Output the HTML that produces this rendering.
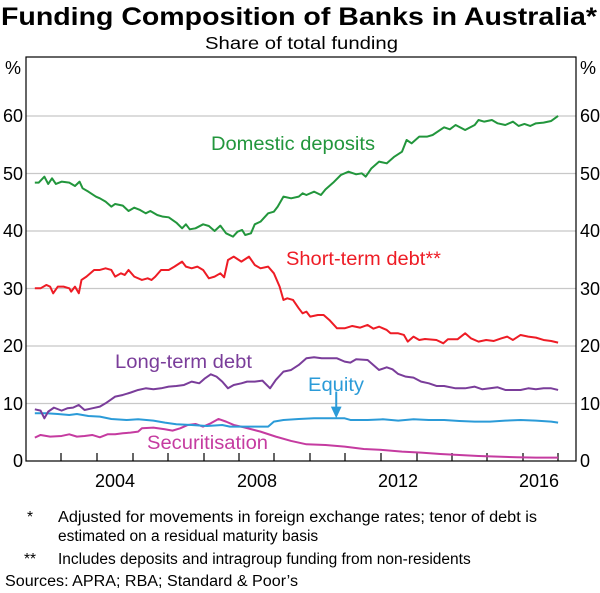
<!DOCTYPE html>
<html><head><meta charset="utf-8"><style>
body{margin:0;background:#fff;}
svg{display:block;font-family:"Liberation Sans",Arial,sans-serif;}
</style></head><body>
<svg width="600" height="593" viewBox="0 0 600 593" xmlns="http://www.w3.org/2000/svg">
<text x="1" y="25" font-size="25" font-weight="bold" textLength="596" lengthAdjust="spacingAndGlyphs">Funding Composition of Banks in Australia*</text>
<text x="205" y="49" font-size="17.5" textLength="193" lengthAdjust="spacingAndGlyphs">Share of total funding</text>
<g stroke="#c8c8c8" stroke-width="1.3">
<line x1="26" x2="576" y1="116" y2="116"/><line x1="26" x2="576" y1="173.5" y2="173.5"/>
<line x1="26" x2="576" y1="231" y2="231"/><line x1="26" x2="576" y1="288.5" y2="288.5"/>
<line x1="26" x2="576" y1="346" y2="346"/><line x1="26" x2="576" y1="403.5" y2="403.5"/>
</g>
<g font-size="18" fill="#000">
<text x="5" y="74">%</text><text x="580" y="74">%</text>
<g text-anchor="end">
<text x="23" y="122">60</text><text x="23" y="180">50</text><text x="23" y="237">40</text>
<text x="23" y="295">30</text><text x="23" y="352">20</text><text x="23" y="410">10</text><text x="23" y="467">0</text>
</g>
<text x="580" y="122">60</text><text x="580" y="180">50</text><text x="580" y="237">40</text>
<text x="580" y="295">30</text><text x="580" y="352">20</text><text x="580" y="410">10</text><text x="580" y="467">0</text>
<g text-anchor="middle">
<text x="115" y="487">2004</text><text x="257" y="487">2008</text><text x="398" y="487">2012</text><text x="539" y="487">2016</text>
</g>
</g>
<g stroke="#000" stroke-width="1.2">
<line x1="61" x2="61" y1="453" y2="461"/><line x1="97" x2="97" y1="453" y2="461"/><line x1="133" x2="133" y1="453" y2="461"/><line x1="168" x2="168" y1="453" y2="461"/><line x1="204" x2="204" y1="453" y2="461"/><line x1="239" x2="239" y1="453" y2="461"/><line x1="274" x2="274" y1="453" y2="461"/><line x1="310" x2="310" y1="453" y2="461"/><line x1="345" x2="345" y1="453" y2="461"/><line x1="381" x2="381" y1="453" y2="461"/><line x1="417" x2="417" y1="453" y2="461"/><line x1="452" x2="452" y1="453" y2="461"/><line x1="487" x2="487" y1="453" y2="461"/><line x1="523" x2="523" y1="453" y2="461"/><line x1="558" x2="558" y1="453" y2="461"/>
</g>
<g transform="translate(0.4,40) scale(0.3825,0.3333)" fill="none" stroke-width="2" stroke-linejoin="round">
<polyline vector-effect="non-scaling-stroke" stroke="#c53ba0" points="90,1193 105,1185 130,1190 160,1188 180,1183 200,1190 220,1188 240,1185 260,1192 280,1183 300,1183 320,1180 340,1178 360,1175 370,1165 400,1163 430,1168 450,1172 470,1165 490,1155 510,1152 530,1160 550,1150 570,1137 590,1145 610,1155 640,1163 680,1175 720,1190 760,1203 800,1213 850,1215 900,1220 950,1227 1000,1230 1050,1235 1100,1238 1150,1242 1200,1245 1250,1248 1300,1250 1350,1252 1400,1253 1458,1253"/>
<polyline vector-effect="non-scaling-stroke" stroke="#2b9bd8" points="90,1120 120,1120 150,1122 180,1125 200,1122 230,1128 260,1130 290,1137 330,1140 360,1138 400,1142 430,1148 460,1153 500,1155 540,1158 580,1155 600,1160 640,1160 680,1160 700,1160 715,1145 740,1140 780,1137 820,1135 860,1135 900,1135 915,1140 960,1140 1000,1138 1040,1142 1080,1138 1120,1140 1160,1140 1200,1143 1240,1145 1280,1145 1320,1142 1360,1140 1400,1142 1440,1145 1458,1148"/>
<line vector-effect="non-scaling-stroke" stroke="#2b9bd8" x1="878" y1="1055" x2="878" y2="1115"/>
<polygon fill="#2b9bd8" stroke="none" points="864,1100 892,1100 878,1135"/>
<polyline vector-effect="non-scaling-stroke" stroke="#7a3d9a" points="90,1108 105,1112 115,1135 125,1115 140,1103 160,1112 175,1105 190,1103 205,1095 220,1110 240,1105 260,1100 275,1090 290,1078 300,1070 320,1065 340,1058 360,1050 380,1045 400,1048 420,1045 440,1040 460,1038 480,1035 500,1025 520,1030 535,1015 550,1003 565,1010 580,1025 595,1045 610,1035 630,1030 645,1025 665,1025 685,1022 705,1045 720,1020 740,995 760,990 780,975 800,955 820,952 840,955 860,955 880,955 900,965 915,968 930,958 960,960 975,975 990,990 1010,982 1025,988 1040,1002 1060,1010 1080,1013 1100,1025 1120,1030 1140,1038 1160,1038 1190,1045 1215,1045 1240,1040 1260,1048 1280,1045 1300,1042 1320,1050 1340,1050 1360,1050 1380,1045 1400,1048 1420,1045 1440,1045 1458,1050"/>
<polyline vector-effect="non-scaling-stroke" stroke="#ee1c25" points="90,745 105,745 120,735 130,740 138,760 150,740 165,740 180,745 185,755 195,740 205,760 212,720 225,710 245,690 260,690 275,685 290,690 300,710 315,700 325,705 335,690 350,710 370,720 385,715 395,720 405,710 420,690 440,690 455,680 475,665 485,680 500,685 515,680 530,690 545,715 560,710 575,700 585,712 595,660 610,650 630,665 650,650 665,675 680,685 700,680 715,700 730,740 740,780 750,775 765,780 780,805 790,820 800,815 810,830 830,825 845,825 860,840 880,865 900,865 920,858 940,863 960,855 975,866 990,860 1010,870 1020,880 1040,880 1055,885 1065,905 1080,890 1095,900 1110,897 1140,900 1158,910 1170,898 1195,898 1215,880 1230,895 1250,905 1270,900 1290,903 1310,895 1325,890 1340,900 1360,885 1380,890 1400,893 1420,900 1440,903 1458,908"/>
<polyline vector-effect="non-scaling-stroke" stroke="#22963c" points="90,428 100,428 115,410 125,432 135,415 145,432 160,425 180,428 195,438 207,425 215,445 230,455 250,470 260,475 275,485 290,500 300,492 320,497 335,513 350,503 365,510 380,520 392,513 410,525 425,530 440,532 460,548 475,565 485,553 495,568 510,565 530,553 545,558 560,573 575,557 590,580 608,590 620,575 632,570 640,585 655,580 665,553 680,545 700,520 715,515 725,500 740,470 760,475 780,470 790,460 800,465 820,455 838,465 850,448 870,428 890,405 910,395 930,403 945,400 955,410 970,385 990,365 1010,370 1030,350 1050,335 1062,300 1075,310 1095,290 1115,290 1130,285 1160,262 1175,268 1190,255 1215,270 1240,255 1250,240 1265,245 1285,240 1300,250 1320,255 1340,245 1355,258 1370,252 1385,258 1400,250 1420,248 1440,243 1458,228"/>
</g>
<rect x="26" y="57" width="550" height="404" fill="none" stroke="#000" stroke-width="1.2"/>
<g font-size="19">
<text x="211" y="150" fill="#22963c" textLength="164" lengthAdjust="spacingAndGlyphs">Domestic deposits</text>
<text x="286" y="265" fill="#ee1c25" textLength="155" lengthAdjust="spacingAndGlyphs">Short-term debt**</text>
<text x="115" y="368" fill="#7a3d9a" textLength="137" lengthAdjust="spacingAndGlyphs">Long-term debt</text>
<text x="308" y="391" fill="#2b9bd8" textLength="56" lengthAdjust="spacingAndGlyphs">Equity</text>
<text x="147" y="449" fill="#c53ba0" textLength="121" lengthAdjust="spacingAndGlyphs">Securitisation</text>
</g>
<g font-size="15.5" fill="#000">
<text x="27" y="522">*</text>
<text x="58" y="522" textLength="479" lengthAdjust="spacingAndGlyphs">Adjusted for movements in foreign exchange rates; tenor of debt is</text>
<text x="58" y="541">estimated on a residual maturity basis</text>
<text x="24" y="564">**</text>
<text x="58" y="564">Includes deposits and intragroup funding from non-residents</text>
<text x="5" y="586" textLength="293" lengthAdjust="spacingAndGlyphs">Sources:   APRA; RBA; Standard &amp; Poor’s</text>
</g>
</svg>
</body></html>
